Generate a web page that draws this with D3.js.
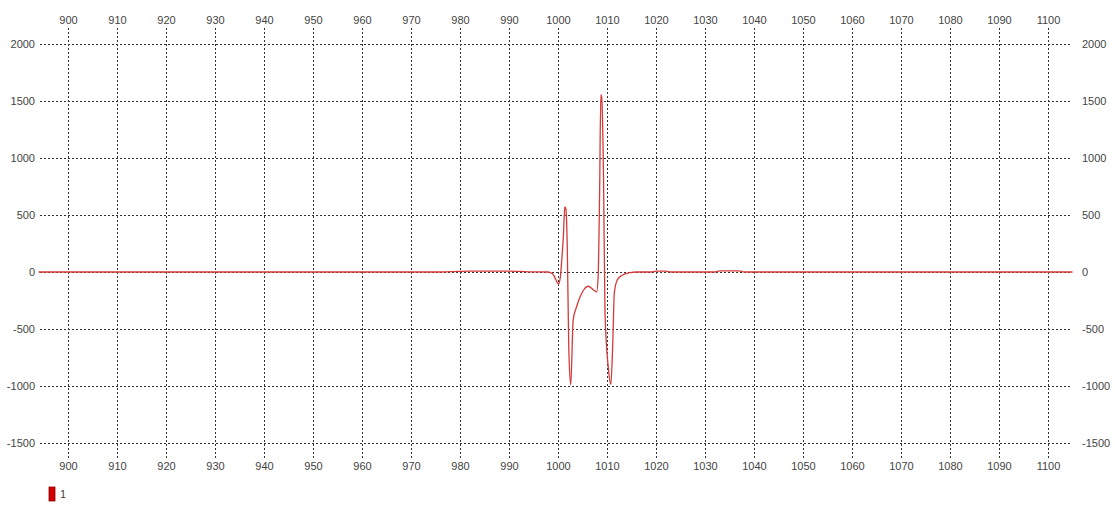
<!DOCTYPE html>
<html>
<head>
<meta charset="utf-8">
<script src="https://cdn.jsdelivr.net/npm/d3@7"></script>
<style>
  body { margin: 0; background: #fff; }
  text { font-family: "Liberation Sans", Arial, sans-serif; font-size: 11px; fill: #444; }
</style>
</head>
<body>
<div id="chart"></div>
<script>
const W = 1115, H = 506;
const margin = {top: 28, right: 43, bottom: 47, left: 40};

// tick labels
const xTicks = d3.range(900, 1101, 10);
const yTicks = [-1500, -1000, -500, 0, 500, 1000, 1500, 2000];

// series "1"
const wavelength = [894, 975, 978, 982, 990, 994, 998, 999, 999.6, 1000.1, 1000.5, 1000.75, 1001.1, 1001.4, 1001.6,
  1001.9, 1002.2, 1002.6, 1002.8, 1003.1, 1003.8, 1004.5, 1005.2, 1006.2, 1007.2, 1007.9, 1008.2, 1008.5, 1008.75,
  1008.9, 1009.3, 1009.6, 1010.3, 1010.8, 1011.2, 1011.5, 1012.1, 1013, 1014.7, 1016, 1019, 1020, 1022, 1023,
  1032, 1033, 1037, 1038, 1105];
const signal = [0, 0, 3, 8, 8, 2, 0, -20, -70, -105, -40, 90, 310, 570, 560,
  220, -650, -990, -800, -420, -305, -220, -160, -125, -155, -175, -40, 700, 1555,
  1540, 820, -360, -850, -985, -600, -185, -70, -30, -5, 0, 0, 8, 8, 0,
  0, 10, 10, 0, 0];
const seriesName = "1";

const svg = d3.select("#chart").append("svg")
  .attr("width", W)
  .attr("height", H);

const x = d3.scaleLinear().domain([894.3, 1104.9]).range([margin.left, W - margin.right]);
const y = d3.scaleLinear().domain([-1640, 2140]).range([H - margin.bottom, margin.top]);

// plain numbers, ascii minus
const fmt = d => String(d);

// grid
const grid = svg.append("g")
  .attr("stroke", "#333")
  .attr("stroke-width", 1)
  .attr("stroke-dasharray", "2,2");

grid.selectAll("line.v").data(xTicks).enter().append("line")
  .attr("class", "v")
  .attr("x1", d => Math.round(x(d)) + 0.5).attr("x2", d => Math.round(x(d)) + 0.5)
  .attr("y1", margin.top).attr("y2", H - margin.bottom);

grid.selectAll("line.h").data(yTicks).enter().append("line")
  .attr("class", "h")
  .attr("y1", d => Math.round(y(d)) + 0.5).attr("y2", d => Math.round(y(d)) + 0.5)
  .attr("x1", margin.left).attr("x2", W - margin.right);

// axes (labels only)
function labelsOnly(g) {
  g.select(".domain").remove();
  g.selectAll(".tick line").remove();
  g.selectAll(".tick text").attr("fill", "#444").style("font-size", "11px")
    .style("font-family", "Liberation Sans, Arial, sans-serif");
}

svg.append("g")
  .attr("transform", `translate(0,${margin.top - 4})`)
  .call(d3.axisTop(x).tickValues(xTicks).tickFormat(fmt).tickSize(0).tickPadding(0))
  .call(labelsOnly);

svg.append("g")
  .attr("transform", `translate(0,${H - margin.bottom + 3})`)
  .call(d3.axisBottom(x).tickValues(xTicks).tickFormat(fmt).tickSize(0).tickPadding(0))
  .call(labelsOnly);

svg.append("g")
  .attr("transform", `translate(${margin.left - 5},0)`)
  .call(d3.axisLeft(y).tickValues(yTicks).tickFormat(fmt).tickSize(0).tickPadding(0))
  .call(labelsOnly);

svg.append("g")
  .attr("transform", `translate(${W - margin.right + 10},0)`)
  .call(d3.axisRight(y).tickValues(yTicks).tickFormat(fmt).tickSize(0).tickPadding(0))
  .call(labelsOnly);

// line
const pts = wavelength.map((w, i) => [w, signal[i]]);
const line = d3.line()
  .x(d => x(d[0]))
  .y(d => y(d[1]))
  .curve(d3.curveMonotoneX);

svg.append("path")
  .datum(pts)
  .attr("fill", "none")
  .attr("stroke", "#d43a3a")
  .attr("stroke-width", 1.3)
  .attr("d", line);

// legend
const legend = svg.append("g").attr("transform", "translate(49,487)");
legend.append("rect")
  .attr("width", 6).attr("height", 14)
  .attr("fill", "#d40000").attr("stroke", "#8a0000").attr("stroke-width", 0.8);
legend.append("text")
  .attr("x", 11).attr("y", 11)
  .text(seriesName);
</script>
</body>
</html>
